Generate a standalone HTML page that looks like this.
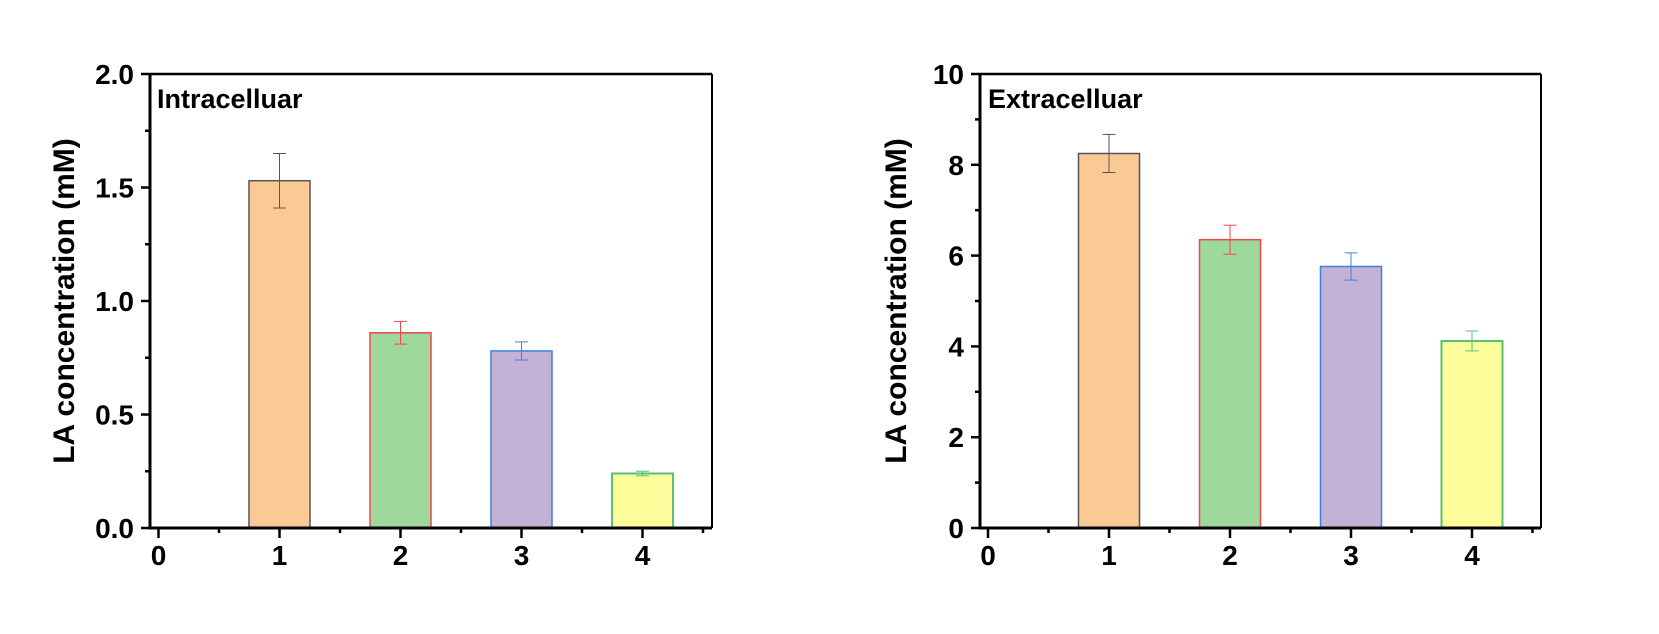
<!DOCTYPE html>
<html><head><meta charset="utf-8"><style>body{margin:0;background:#fff}svg{display:block}text{font-family:"Liberation Sans",Arial,sans-serif;font-weight:bold;fill:#000}</style></head><body>
<svg width="1659" height="634" viewBox="0 0 1659 634" xmlns="http://www.w3.org/2000/svg">
<!-- LEFT PLOT -->
<g>
<rect x="249" y="180.7" width="61" height="347.3" fill="#FBC996" stroke="#555" stroke-width="1.5"/>
<rect x="370" y="332.8" width="61" height="195.2" fill="#9ED89C" stroke="#F0464E" stroke-width="1.5"/>
<rect x="491" y="350.9" width="61" height="177.1" fill="#C3B2D6" stroke="#3F7FE0" stroke-width="1.5"/>
<rect x="612" y="473.5" width="61" height="54.5" fill="#FDFD9C" stroke="#5CC072" stroke-width="2"/>
<g stroke="#555" stroke-width="1"><line x1="279.5" y1="153.5" x2="279.5" y2="208"/><line x1="273" y1="153.5" x2="286" y2="153.5"/><line x1="273" y1="208" x2="286" y2="208"/></g>
<g stroke="#F0464E" stroke-width="1"><line x1="400.5" y1="321.4" x2="400.5" y2="344.1"/><line x1="394" y1="321.4" x2="407" y2="321.4"/><line x1="394" y1="344.1" x2="407" y2="344.1"/></g>
<g stroke="#3F7FE0" stroke-width="1"><line x1="521.5" y1="341.9" x2="521.5" y2="360"/><line x1="515" y1="341.9" x2="528" y2="341.9"/><line x1="515" y1="360" x2="528" y2="360"/></g>
<g stroke="#5CC072" stroke-width="1"><line x1="642.5" y1="471.2" x2="642.5" y2="475.8"/><line x1="636" y1="471.2" x2="649" y2="471.2"/><line x1="636" y1="475.8" x2="649" y2="475.8"/></g>
<g stroke="#000" stroke-width="3"><line x1="150" y1="74" x2="150" y2="529.5"/><line x1="148.5" y1="528" x2="712" y2="528"/><line x1="150" y1="74" x2="712" y2="74" stroke-width="2.5"/><line x1="712" y1="74" x2="712" y2="528" stroke-width="2"/></g>
<g stroke="#000" stroke-width="2.5">
<line x1="141" y1="528" x2="150" y2="528"/><line x1="141" y1="414.5" x2="150" y2="414.5"/><line x1="141" y1="301" x2="150" y2="301"/><line x1="141" y1="187.5" x2="150" y2="187.5"/><line x1="141" y1="74" x2="150" y2="74"/>
<line x1="145" y1="471.25" x2="150" y2="471.25"/><line x1="145" y1="357.75" x2="150" y2="357.75"/><line x1="145" y1="244.25" x2="150" y2="244.25"/><line x1="145" y1="130.75" x2="150" y2="130.75"/>
<line x1="158.5" y1="528" x2="158.5" y2="538"/><line x1="279.5" y1="528" x2="279.5" y2="538"/><line x1="400.5" y1="528" x2="400.5" y2="538"/><line x1="521.5" y1="528" x2="521.5" y2="538"/><line x1="642.5" y1="528" x2="642.5" y2="538"/>
<line x1="219" y1="528" x2="219" y2="533"/><line x1="340" y1="528" x2="340" y2="533"/><line x1="461" y1="528" x2="461" y2="533"/><line x1="582" y1="528" x2="582" y2="533"/><line x1="703" y1="528" x2="703" y2="533"/>
</g>
<g font-size="28" text-anchor="end"><text x="134" y="538">0.0</text><text x="134" y="424.5">0.5</text><text x="134" y="311">1.0</text><text x="134" y="197.5">1.5</text><text x="134" y="84">2.0</text></g>
<g font-size="28" text-anchor="middle"><text x="158.5" y="565">0</text><text x="279.5" y="565">1</text><text x="400.5" y="565">2</text><text x="521.5" y="565">3</text><text x="642.5" y="565">4</text></g>
<text x="157" y="108" font-size="27">Intracelluar</text>
<text transform="translate(74,301) rotate(-90)" font-size="30" text-anchor="middle">LA concentration (mM)</text>
</g>
<!-- RIGHT PLOT -->
<g>
<rect x="1078.5" y="153.5" width="61" height="374.5" fill="#FBC996" stroke="#555" stroke-width="1.5"/>
<rect x="1199.5" y="239.7" width="61" height="288.3" fill="#9ED89C" stroke="#F0464E" stroke-width="1.5"/>
<rect x="1320.5" y="266.5" width="61" height="261.5" fill="#C3B2D6" stroke="#3F7FE0" stroke-width="1.5"/>
<rect x="1441.5" y="341" width="61" height="187" fill="#FDFD9C" stroke="#5CC072" stroke-width="2"/>
<g stroke="#555" stroke-width="1"><line x1="1109" y1="134.4" x2="1109" y2="172.5"/><line x1="1102.5" y1="134.4" x2="1115.5" y2="134.4"/><line x1="1102.5" y1="172.5" x2="1115.5" y2="172.5"/></g>
<g stroke="#F0464E" stroke-width="1"><line x1="1230" y1="225.2" x2="1230" y2="254.2"/><line x1="1223.5" y1="225.2" x2="1236.5" y2="225.2"/><line x1="1223.5" y1="254.2" x2="1236.5" y2="254.2"/></g>
<g stroke="#3F7FE0" stroke-width="1"><line x1="1351" y1="252.9" x2="1351" y2="280.1"/><line x1="1344.5" y1="252.9" x2="1357.5" y2="252.9"/><line x1="1344.5" y1="280.1" x2="1357.5" y2="280.1"/></g>
<g stroke="#5CC072" stroke-width="1"><line x1="1472" y1="331" x2="1472" y2="350.9"/><line x1="1465.5" y1="331" x2="1478.5" y2="331"/><line x1="1465.5" y1="350.9" x2="1478.5" y2="350.9"/></g>
<g stroke="#000" stroke-width="3"><line x1="980" y1="74" x2="980" y2="529.5"/><line x1="978.5" y1="528" x2="1541" y2="528"/><line x1="980" y1="74" x2="1541" y2="74" stroke-width="2.5"/><line x1="1541" y1="74" x2="1541" y2="528" stroke-width="2"/></g>
<g stroke="#000" stroke-width="2.5">
<line x1="971" y1="528" x2="980" y2="528"/><line x1="971" y1="437.2" x2="980" y2="437.2"/><line x1="971" y1="346.4" x2="980" y2="346.4"/><line x1="971" y1="255.6" x2="980" y2="255.6"/><line x1="971" y1="164.8" x2="980" y2="164.8"/><line x1="971" y1="74" x2="980" y2="74"/>
<line x1="975" y1="482.6" x2="980" y2="482.6"/><line x1="975" y1="391.8" x2="980" y2="391.8"/><line x1="975" y1="301" x2="980" y2="301"/><line x1="975" y1="210.2" x2="980" y2="210.2"/><line x1="975" y1="119.4" x2="980" y2="119.4"/>
<line x1="988" y1="528" x2="988" y2="538"/><line x1="1109" y1="528" x2="1109" y2="538"/><line x1="1230" y1="528" x2="1230" y2="538"/><line x1="1351" y1="528" x2="1351" y2="538"/><line x1="1472" y1="528" x2="1472" y2="538"/>
<line x1="1048.5" y1="528" x2="1048.5" y2="533"/><line x1="1169.5" y1="528" x2="1169.5" y2="533"/><line x1="1290.5" y1="528" x2="1290.5" y2="533"/><line x1="1411.5" y1="528" x2="1411.5" y2="533"/><line x1="1532.5" y1="528" x2="1532.5" y2="533"/>
</g>
<g font-size="28" text-anchor="end"><text x="964" y="538">0</text><text x="964" y="447.2">2</text><text x="964" y="356.4">4</text><text x="964" y="265.6">6</text><text x="964" y="174.8">8</text><text x="964" y="84">10</text></g>
<g font-size="28" text-anchor="middle"><text x="988" y="565">0</text><text x="1109" y="565">1</text><text x="1230" y="565">2</text><text x="1351" y="565">3</text><text x="1472" y="565">4</text></g>
<text x="988" y="108" font-size="27">Extracelluar</text>
<text transform="translate(906,301) rotate(-90)" font-size="30" text-anchor="middle">LA concentration (mM)</text>
</g>
</svg>
</body></html>
